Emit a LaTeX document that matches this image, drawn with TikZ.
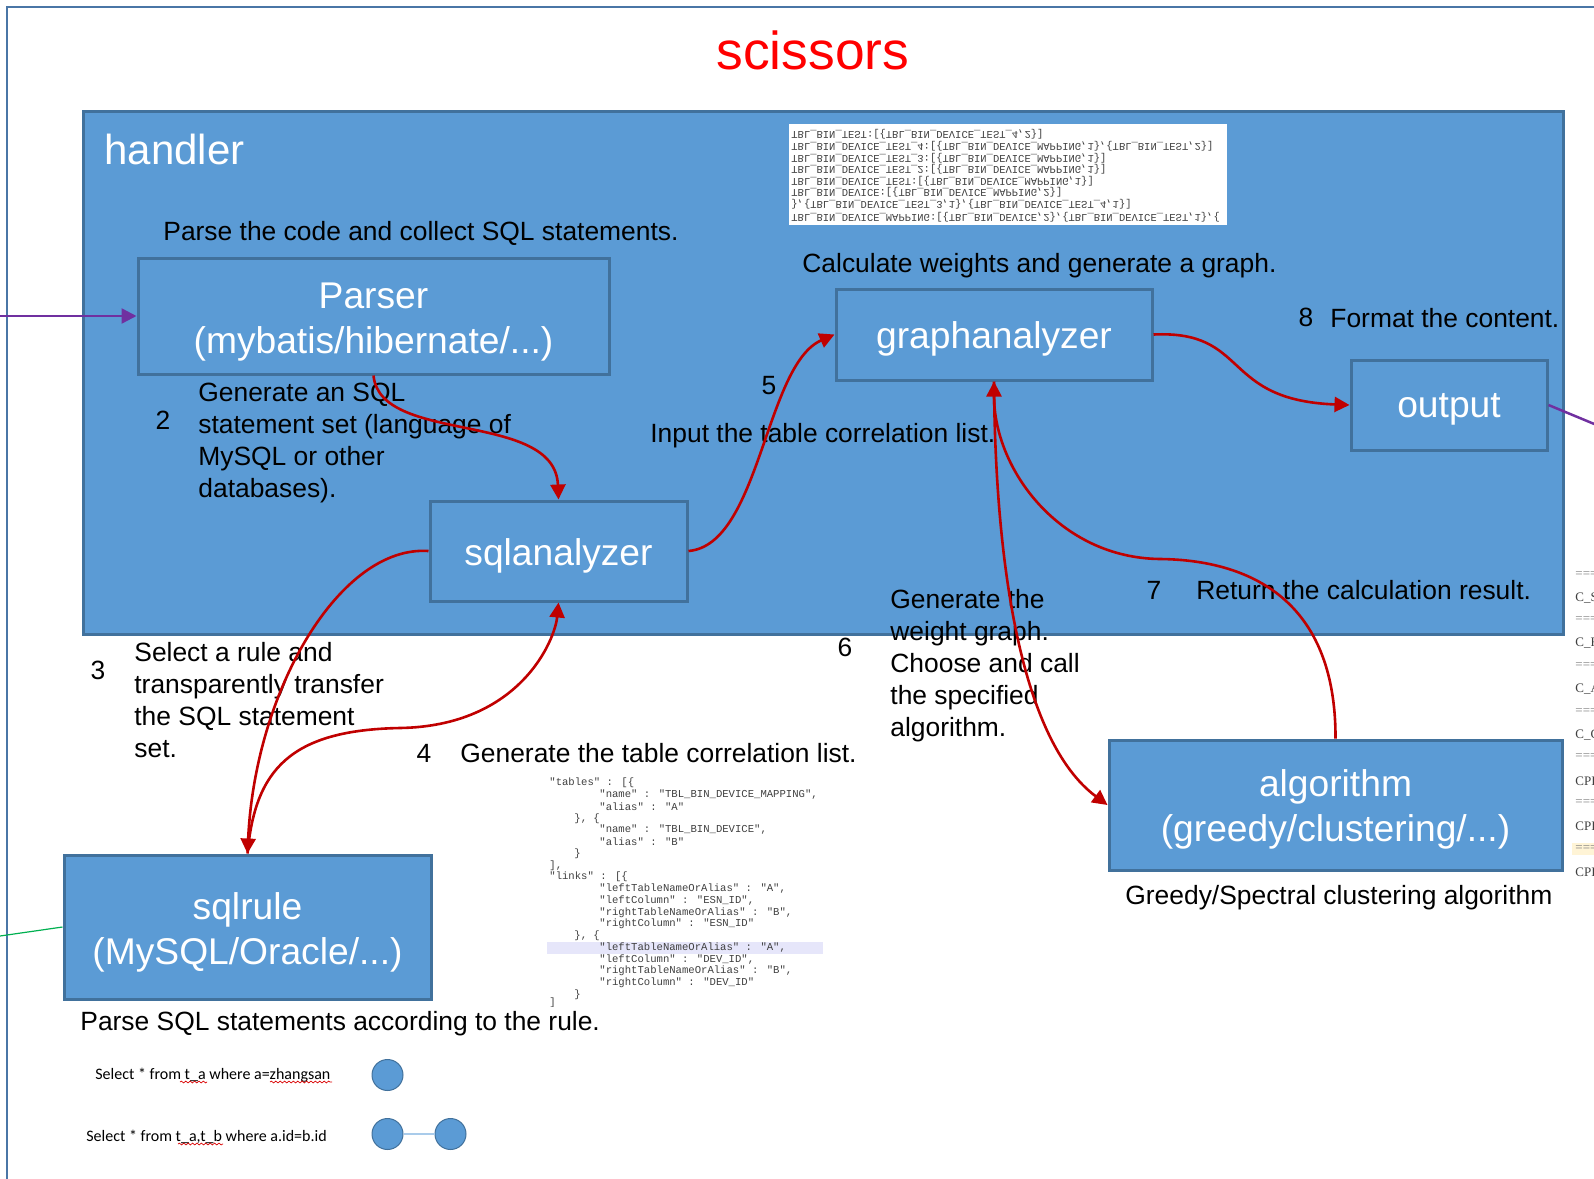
\documentclass[tikz,border=0pt]{standalone}
\usepackage{fontspec}
\usepackage{graphicx}
\setmainfont{Liberation Sans}
\newfontfamily\monofam{Liberation Mono}
\newfontfamily\calibrifam{Carlito}
\newfontfamily\seriffam{Liberation Serif}
\usetikzlibrary{arrows.meta,decorations.pathmorphing}

\definecolor{boxfill}{HTML}{5B9BD5}
\definecolor{boxline}{HTML}{41719C}
\definecolor{framecol}{HTML}{4A76A6}
\definecolor{arrowred}{HTML}{C00000}
\definecolor{linkpurple}{HTML}{7030A0}
\definecolor{linkgreen}{HTML}{00B050}
\definecolor{codegray}{HTML}{404040}
\definecolor{hilite}{HTML}{E6E6FA}
\definecolor{paleyellow}{HTML}{FFF4D6}
\definecolor{dotline}{HTML}{A9CBEA}

% one line of code text
\newcommand\codeln[4]{\node[codetxt] (#1) at (#2,#3) {#4};}
% one line of vertically mirrored code text
\newcommand\flipln[3]{\node[codetxt,font=\monofam\fontsize{5.25}{5.9}\selectfont] (#1) at (791,#2) {\scalebox{1}[-1]{#3}};}
% one line of the log text at the right edge
\newcommand\logln[4]{\node[logtxt,text=#4] (#1) at (1575,#2) {#3};}

\begin{document}
\begin{tikzpicture}[x=0.5pt,y=-0.5pt,
  box/.style={draw=boxline, line width=1.5pt, fill=boxfill, inner sep=0pt},
  boxtxt/.style={text=white, align=center, inner sep=0pt,
    font=\fontsize{18.6}{22.5}\selectfont},
  lbl/.style={anchor=west, inner sep=0pt, align=left, text depth=0pt,
    font=\fontsize{13.2}{16}\selectfont},
  blocklbl/.style={anchor=north west, inner sep=0pt, align=left,
    font=\fontsize{13.2}{16}\selectfont},
  num/.style={inner sep=0pt, font=\fontsize{13.2}{16}\selectfont},
  codetxt/.style={anchor=west, inner sep=0pt, text=codegray,
    font=\monofam\fontsize{5.3}{5.9}\selectfont},
  logtxt/.style={anchor=west, inner sep=0pt,
    font=\seriffam\fontsize{6.5}{8}\selectfont},
  sqltxt/.style={anchor=west, inner sep=0pt,
    font=\calibrifam\fontsize{8}{9.6}\selectfont},
  dot/.style={circle, draw=boxline, line width=0.5pt, fill=boxfill,
    minimum size=15.5pt, inner sep=0pt},
  flow/.style={draw=arrowred, line width=1.3pt,
    -{Triangle[length=7.5pt,width=7.5pt]}},
  feed/.style={draw=linkpurple, line width=1.25pt},
  spell/.style={draw=red!85!black, line width=0.35pt,
    decorate, decoration={snake, amplitude=0.45pt, segment length=2.2pt}}
]
\useasboundingbox (0,0) rectangle (1594,1178);
\begin{scope}
\clip (0,0) rectangle (1594,1178);

% outer frame
\draw[framecol, line width=1.4pt] (7,1200) -- (7,7) -- (1620,7);

% title
\node[text=red, inner sep=0pt, anchor=base,
  font=\fontsize{26.7}{30}\selectfont] (title) at (813,69) {scissors};

% handler area
\node[box, minimum width=740pt, minimum height=261.5pt] (handler) at (823,372.5) {};
\node[anchor=west, inner sep=0pt, text=white,
  font=\fontsize{21}{25}\selectfont] (handlertitle) at (104,149) {handler};

% mirrored graph dump
\fill[white] (789,124) rectangle (1227,225);
\begin{scope}
\clip (789,124) rectangle (1227,225);
\flipln{g1}{134}{TBL\_BIN\_TEST:[\{TBL\_BIN\_DEVICE\_TEST\_4,2\}]}
\flipln{g2}{146}{TBL\_BIN\_DEVICE\_TEST\_4:[\{TBL\_BIN\_DEVICE\_MAPPING,1\},\{TBL\_BIN\_TEST,2\}]}
\flipln{g3}{158}{TBL\_BIN\_DEVICE\_TEST\_3:[\{TBL\_BIN\_DEVICE\_MAPPING,1\}]}
\flipln{g4}{169}{TBL\_BIN\_DEVICE\_TEST\_2:[\{TBL\_BIN\_DEVICE\_MAPPING,1\}]}
\flipln{g5}{181}{TBL\_BIN\_DEVICE\_TEST:[\{TBL\_BIN\_DEVICE\_MAPPING,1\}]}
\flipln{g6}{192}{TBL\_BIN\_DEVICE:[\{TBL\_BIN\_DEVICE\_MAPPING,2\}]}
\flipln{g7}{204}{\},\{TBL\_BIN\_DEVICE\_TEST\_3,1\},\{TBL\_BIN\_DEVICE\_TEST\_4,1\}]}
\flipln{g8}{217}{TBL\_BIN\_DEVICE\_MAPPING:[\{TBL\_BIN\_DEVICE,2\},\{TBL\_BIN\_DEVICE\_TEST,1\},\{}
\end{scope}

% component boxes
\node[box, minimum width=235.5pt, minimum height=58pt] (parser) at (373.5,316) {};
\node[box, minimum width=158pt, minimum height=45.5pt] (graph) at (994,334.5) {};
\node[box, minimum width=98pt, minimum height=45pt] (output) at (1449,405) {};
\node[box, minimum width=128.5pt, minimum height=50pt] (sqlan) at (558.5,551) {};
\node[box, minimum width=183.5pt, minimum height=72pt] (sqlrule) at (247.5,927) {};
\node[box, minimum width=226.5pt, minimum height=65pt] (algo) at (1335.5,805) {};

% box captions
\node[boxtxt] (parsertxt) at ([yshift=-3pt]parser.center) {Parser\\(mybatis/hibernate/...)};
\node[boxtxt] (graphtxt) at ([yshift=-2.2pt]graph.center) {graphanalyzer};
\node[boxtxt] (outputtxt) at ([yshift=-2.4pt]output.center) {output};
\node[boxtxt] (sqlantxt) at ([yshift=-2.4pt]sqlan.center) {sqlanalyzer};
\node[boxtxt] (sqlruletxt) at ([yshift=-2.5pt]sqlrule.center) {sqlrule\\(MySQL/Oracle/...)};
\node[boxtxt] (algotxt) at ([yshift=-2.2pt]algo.center) {algorithm\\(greedy/clustering/...)};

% step labels
\node[lbl] (tparse) at (163,231) {Parse the code and collect SQL statements.};
\node[lbl] (tcalc) at (802,263) {Calculate weights and generate a graph.};
\node[num] (n8) at (1306,317) {8};
\node[lbl] (tformat) at (1330,318) {Format the content.};
\node[num] (n2) at (163,420) {2};
\node[blocklbl] (tgen) at (198,383)
  {Generate an SQL\\statement set (language of\\MySQL or other\\databases).};
\node[num] (n5) at (769,386) {5};
\node[lbl] (tinput) at (650,433) {Input the table correlation list.};
\node[num] (n3) at (98,670) {3};
\node[blocklbl] (tselect) at (134,642)
  {Select a rule and\\transparently transfer\\the SQL statement\\set.};
\node[num] (n4) at (424,753) {4};
\node[lbl] (ttable) at (460,753) {Generate the table correlation list.};
\node[num] (n6) at (845,647) {6};
\node[blocklbl] (tweight) at (890,589)
  {Generate the\\weight graph.\\Choose and call\\the specified\\algorithm.};
\node[num] (n7) at (1154,590) {7};
\node[lbl] (treturn) at (1196,590) {Return the calculation result.};
\node[lbl] (tgreedy) at (1125,895) {Greedy/Spectral clustering algorithm};
\node[lbl] (trule) at (80,1021) {Parse SQL statements according to the rule.};

% table correlation list
\begin{scope}
\clip (547,770) rectangle (823,1006);
\fill[hilite] (547,942) rectangle (823,953.5);
\codeln{j1}{549}{783.0}{"tables" : [\{}
\codeln{j2}{599}{794.8}{"name" : "TBL\_BIN\_DEVICE\_MAPPING",}
\codeln{j3}{599}{806.5}{"alias" : "A"}
\codeln{j4}{574}{818.3}{\}, \{}
\codeln{j5}{599}{830.0}{"name" : "TBL\_BIN\_DEVICE",}
\codeln{j6}{599}{841.8}{"alias" : "B"}
\codeln{j7}{574}{853.6}{\}}
\codeln{j8}{549}{865.3}{],}
\codeln{j9}{549}{877.1}{"links" : [\{}
\codeln{j10}{599}{888.8}{"leftTableNameOrAlias" : "A",}
\codeln{j11}{599}{900.6}{"leftColumn" : "ESN\_ID",}
\codeln{j12}{599}{912.4}{"rightTableNameOrAlias" : "B",}
\codeln{j13}{599}{924.1}{"rightColumn" : "ESN\_ID"}
\codeln{j14}{574}{935.9}{\}, \{}
\codeln{j15}{599}{947.6}{"leftTableNameOrAlias" : "A",}
\codeln{j16}{599}{959.4}{"leftColumn" : "DEV\_ID",}
\codeln{j17}{599}{971.2}{"rightTableNameOrAlias" : "B",}
\codeln{j18}{599}{982.9}{"rightColumn" : "DEV\_ID"}
\codeln{j19}{574}{994.7}{\}}
\codeln{j20}{549}{1003}{]}
\end{scope}

% log text cut by the right edge
\fill[paleyellow] (1572,843) rectangle (1594,855);
\logln{r1}{575}{=====}{gray}
\logln{r2}{598}{C\_S}{codegray}
\logln{r3}{620}{=====}{gray}
\logln{r4}{643}{C\_F}{codegray}
\logln{r5}{666}{=====}{gray}
\logln{r6}{689}{C\_A}{codegray}
\logln{r7}{712}{=====}{gray}
\logln{r8}{735}{C\_C}{codegray}
\logln{r9}{757}{=====}{gray}
\logln{r10}{781}{CPI}{codegray}
\logln{r11}{803}{=====}{gray}
\logln{r12}{826}{CPI}{codegray}
\logln{r13}{849}{=====}{gray}
\logln{r14}{872}{CPI}{codegray}

% sample statements and their graphs
\node[sqltxt] (q1) at (95,1075) {Select * from t\_a where a=zhangsan};
\node[sqltxt] (q2) at (86,1137) {Select * from t\_a,t\_b where a.id=b.id};
\draw[spell] (180,1082) -- (207,1082);
\draw[spell] (270,1082) -- (332,1082);
\draw[spell] (178,1144) -- (223,1144);
\node[dot] (c1) at (387.5,1075) {};
\node[dot] (c2) at (387.5,1134) {};
\node[dot] (c3) at (450.5,1134) {};
\draw[dotline, line width=0.8pt] (c2) -- (c3);

% links leaving the frame
\coordinate (inL) at (0,316);
\coordinate (outR) at (1640,443);
\coordinate (gL) at (0,936);
\draw[feed, -{Triangle[length=7.5pt,width=7.5pt]}] (inL) -- (parser.west);
\draw[feed] (output.east) -- (outR);
\draw[linkgreen, line width=0.6pt] (gL) -- (sqlrule.west);

% processing flow
\coordinate (bend5) at (400,728);
\coordinate (bend7) at (1160,559);
\draw[flow] (parser.south) .. controls (380,445) and (555,410) .. (sqlan.north);
\draw[flow] (sqlan.east) .. controls (760,545) and (765,365) .. (graph.west);
\draw[flow] (graph.east) .. controls (1250,330) and (1220,400) .. (output.west);
\draw[flow] (sqlan.west) .. controls (340,545) and (255,690) .. (sqlrule.north);
\draw[flow] (sqlrule.north) .. controls (255,770) and (290,730) .. (bend5)
  .. controls (520,726) and (555,640) .. (sqlan.south);
\draw[flow] (graph.south) .. controls (995,560) and (1020,740) .. (algo.west);
\draw[flow] (algo.north) .. controls (1336,600) and (1250,560) .. (bend7)
  .. controls (1060,558) and (994,470) .. (graph.south);
\end{scope}
\end{tikzpicture}
\end{document}
